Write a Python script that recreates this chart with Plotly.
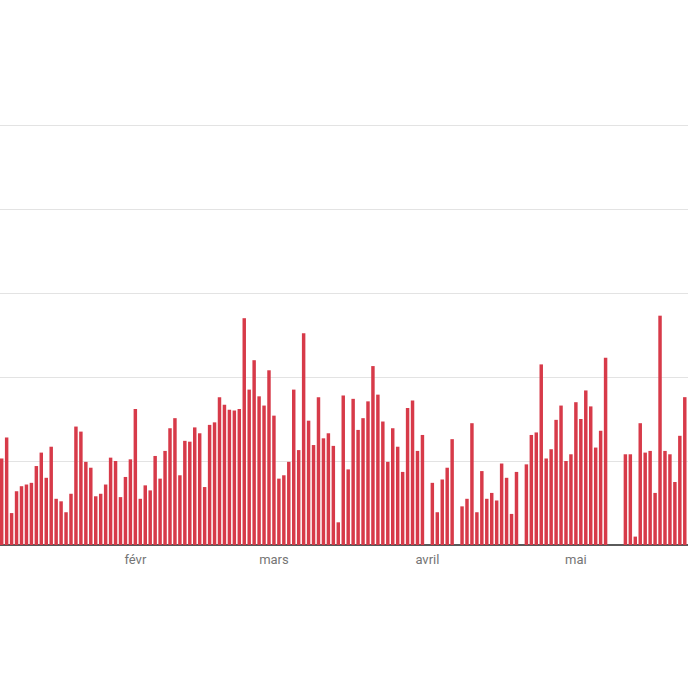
import pandas as pd
import plotly.graph_objects as go

# Daily values (gridline step = 10); None = no data that day
start_date = "2021-01-05"
values = [
    10.3, 12.8, 3.8, 6.4, 7.0, 7.2, 7.4, 9.4, 11.0, 8.0,
    11.7, 5.5, 5.2, 3.9, 6.1, 14.1, 13.5, 9.9, 9.2, 5.8,
    6.1, 7.2, 10.4, 10.0, 5.7, 8.1, 10.2, 16.2, 5.5, 7.1,
    6.5, 10.6, 7.9, 11.2, 13.9, 15.1, 8.3, 12.4, 12.3, 14.0,
    13.3, 6.9, 14.3, 14.6, 17.6, 16.7, 16.1, 16.0, 16.2, 27.0,
    18.5, 22.0, 17.7, 16.6, 20.8, 15.4, 7.9, 8.3, 9.9, 18.5,
    11.3, 25.2, 14.8, 11.9, 17.6, 12.7, 13.3, 11.8, 2.7, 17.8,
    9.0, 17.4, 13.7, 15.1, 17.1, 21.3, 17.9, 14.7, 9.9, 13.9,
    11.7, 8.7, 16.3, 17.2, 11.2, 13.1, None, 7.4, 3.9, 7.8,
    9.2, 12.6, None, 4.6, 5.5, 14.5, 3.9, 8.8, 5.5, 6.2,
    5.3, 9.7, 8.0, 3.7, 8.7, None, 9.6, 13.1, 13.4, 21.5,
    10.3, 11.4, 14.9, 16.6, 10.0, 10.8, 17.0, 15.0, 18.4, 16.5,
    11.6, 13.6, 22.3, None, None, None, 10.8, 10.8, 1.0, 14.5,
    11.0, 11.2, 6.2, 27.3, 11.2, 10.8, 7.5, 13.0, 17.6, 26.4,
]
dates = pd.date_range(start_date, periods=len(values), freq="D")

tick_dates = ["2021-02-01", "2021-03-01", "2021-04-01", "2021-05-01"]
tick_labels = ["févr", "mars", "avril", "mai"]

fig = go.Figure(
    go.Bar(
        x=dates,
        y=values,
        marker=dict(color="#d73a49", line=dict(width=0)),
        hoverinfo="skip",
    )
)

t0 = pd.Timestamp(start_date)
x_start = t0 - pd.Timedelta(hours=0.343 * 24)
x_end = t0 + pd.Timedelta(hours=138.65 * 24)

fig.update_layout(
    width=688,
    height=688,
    margin=dict(l=0, r=0, t=100, b=143, pad=0),
    paper_bgcolor="white",
    plot_bgcolor="white",
    bargap=0.3,
    showlegend=False,
    font=dict(family="Roboto", color="#757575", size=13),
    xaxis=dict(
        range=[x_start, x_end],
        tickvals=tick_dates,
        ticktext=tick_labels,
        showgrid=False,
        ticks="outside",
        ticklen=2,
        tickcolor="rgba(0,0,0,0)",
        showline=False,
        zeroline=False,
        tickfont=dict(family="Roboto", size=13, color="#757575"),
    ),
    yaxis=dict(
        range=[0, 52.976],
        dtick=10,
        showgrid=True,
        gridcolor="#e3e3e3",
        gridwidth=1,
        showticklabels=False,
        zeroline=True,
        zerolinecolor="#5a5a5a",
        zerolinewidth=1.5,
        fixedrange=True,
    ),
)

fig.write_html(
    "out.html",
    config={"displayModeBar": False},
    post_script="document.body.style.margin='0';document.body.style.overflow='hidden';",
)
